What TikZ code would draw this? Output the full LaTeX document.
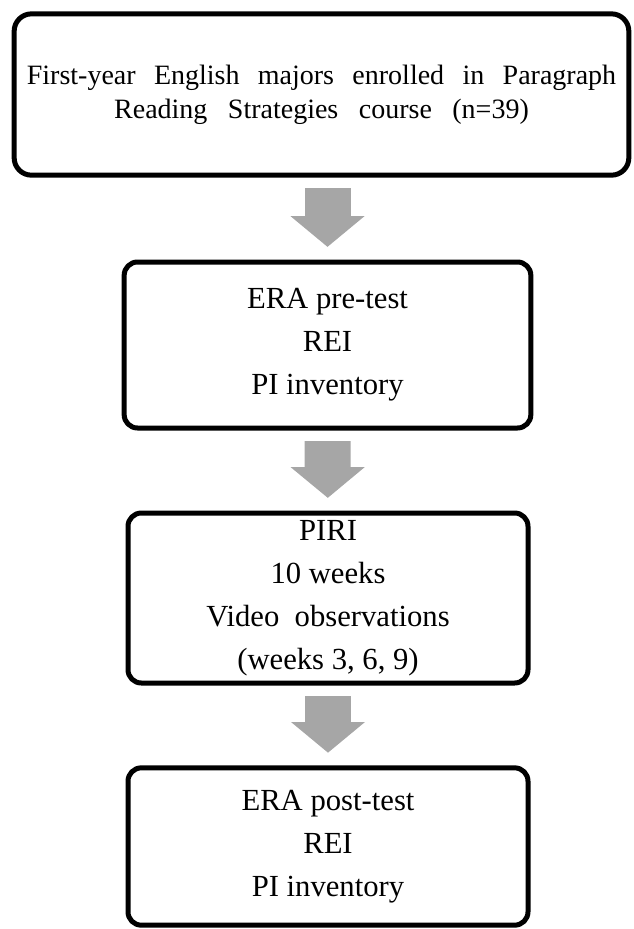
\documentclass[tikz,border=0pt]{standalone}
\usepackage{fontspec}
\setmainfont{Liberation Serif}
\usetikzlibrary{arrows.meta}

\definecolor{arrowgray}{HTML}{A6A6A6}

\begin{document}
\begin{tikzpicture}[
	x=0.75pt, y=-0.75pt,
	line join=round,
	font=\fontsize{23}{32.25}\selectfont,
	hop/.style={draw=black, line width=3.75pt, rounded corners=10pt,
		align=center, inner sep=0pt, minimum width=300pt},
	flow/.style={draw=arrowgray, line width=34.5pt,
		-{Triangle[length=23pt, width=55.5pt, line width=0pt]},
		shorten <=8pt, shorten >=9.5pt}
	]
	
	% Khung
	\useasboundingbox (0,0) rectangle (633,929);
	
	% Các hộp
	\node[hop, minimum width=461pt, minimum height=121pt, rounded corners=13pt,
		font=\fontsize{21}{25.5}\selectfont] (course) at (321.5,94.5)
		{\makebox[442pt][s]{First-year English majors enrolled in Paragraph}\\
		 \makebox[311pt][s]{Reading Strategies course (n=39)}};
	
	\node[hop, minimum width=305pt, minimum height=124.5pt] (pretest) at (327.5,345)
		{ERA pre-test\\ REI\\ PI inventory};
	
	\node[hop, minimum height=127.5pt] (piri) at (328,598)
		{PIRI\\ 10 weeks\\ Video\ \ observations\\ (weeks 3, 6, 9)};
	
	\node[hop, minimum height=118pt] (posttest) at (328,846.5)
		{ERA post-test\\ REI\\ PI inventory};
	
	% Mũi tên
	\draw[flow] (pretest.north |- course.south) -- (pretest.north);
	\draw[flow] (pretest) -- (piri);
	\draw[flow] (piri) -- (posttest);
	
\end{tikzpicture}
\end{document}
